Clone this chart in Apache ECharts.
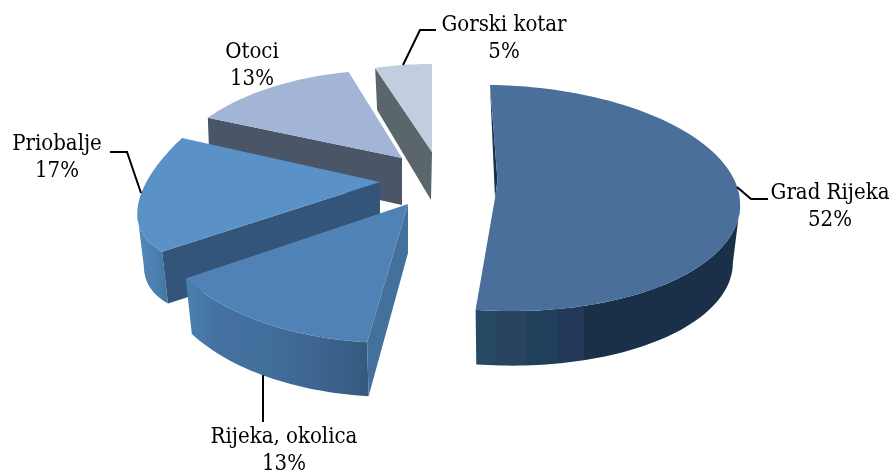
<!DOCTYPE html>
<html><head><meta charset="utf-8">
<style>html,body{margin:0;padding:0;background:#fff}#c{width:893px;height:472px}</style>
<script src="https://cdn.jsdelivr.net/npm/echarts@6/dist/echarts.min.js"></script>
</head><body><div id="c"></div>
<script>
const categories = ['Grad Rijeka', 'Rijeka, okolica', 'Priobalje', 'Otoci', 'Gorski kotar'];
const values = [52, 13, 17, 13, 5];
const topColors = ['#4A6F9B', '#5082B5', '#5A91C7', '#A2B5D7', '#C3CDE0'];
const sideColors = ['#1A3049', '#44709C', '#34557A', '#4A5568', '#5A666B'];
const wallStops = [
  [[0,'#264A63'],[.075,'#264A63'],[.075,'#2A4460'],[.19,'#2A4460'],[.19,'#1F3F5B'],[.31,'#1F3F5B'],[.31,'#24395A'],[.41,'#24395A'],[.41,'#1A3049'],[1,'#1A3049']],
  [[0,'#4A80AD'],[.2,'#456FA0'],[.45,'#416F9B'],[.7,'#3F6593'],[.85,'#3A5F88'],[1,'#355A7E']],
  [[0,'#5387B8'],[.6,'#4A80AF'],[1,'#44749F']],
  [[0,'#4A5568'],[1,'#4A5568']],
  [[0,'#5A666B'],[1,'#5A666B']]
];
/* projection of each exploded slice: ellipse centre c, axes e/n, tip, base scale and depth */
const layout = [
  {c:[498,198],e:[242,3],n:[-8,-113],tip:[497.5,180],s:.97,d:58,sideTip:[-2.5,18],notch:true},
  {c:[427,177],e:[280,-5],n:[25,-166],tip:[408,204],s:.975,d:58,sideTip:[0,49]},
  {c:[382,133],e:[241,-61],n:[42.5,-118],tip:[380,182],s:.973,d:55,sideTip:[0,53]},
  {c:[374,173],e:[202,13],n:[39,-102],tip:[402,158],s:.99,d:44,sideTip:[0,47]},
  {c:[432,152],e:[184,1],n:[0,-88],tip:[432,152],s:.965,d:39,sideTip:[-1,48]}
];
const WALL_FROM = 92, WALL_TO = 260;
const labels = [[830,193.5],[284,437],[57,144],[252,52],[504,25]];
const leaders = [
  [[737,187],[751,199],[768,199]],
  [[263,375],[263,422]],
  [[141,193],[127,152],[110,152]],
  null,
  [[403,65],[420,30],[436,30]]
];
const LINE_H = 27;
const FONT = '"DejaVu Serif Condensed","DejaVu Serif",serif';
const drawRank = [3, 4, 2, 1, 0];

const total = values.reduce((a, b) => a + b, 0);
const cum = [];
values.reduce((a, v, i) => { cum[i] = a; return a + v; }, 0);
const rad = d => d * Math.PI / 180;
function topPt(L, th) {
  const s = Math.sin(rad(th)), k = Math.cos(rad(th));
  return [L.c[0] + s * L.e[0] + k * L.n[0], L.c[1] + s * L.e[1] + k * L.n[1]];
}
function basePt(L, p) {
  return [L.c[0] + L.s * (p[0] - L.c[0]), L.c[1] + L.s * (p[1] - L.c[1]) + L.d];
}
function arc(L, a, b) {
  const n = Math.max(2, Math.ceil(Math.abs(b - a) / 1.5)), out = [];
  for (let i = 0; i <= n; i++) out.push(topPt(L, a + (b - a) * i / n));
  return out;
}
function renderItem(params, api) {
  const i = params.dataIndex, L = layout[i];
  const a0 = cum[i] / total * 360, a1 = (cum[i] + values[i]) / total * 360;
  const rank = drawRank[i] * 10;
  const kids = [];
  // front wall
  const wa = Math.max(a0, WALL_FROM), wb = Math.min(a1, WALL_TO);
  if (wb > wa) {
    const t = arc(L, wa, wb), pts = t.concat(t.map(p => basePt(L, p)).reverse());
    kids.push({type: 'polygon', z2: rank + 1, shape: {points: pts}, style: {
      fill: new echarts.graphic.LinearGradient(0, 0, 1, 0,
        wallStops[i].map(s => ({offset: s[0], color: s[1]})))
    }});
  }
  // wall along the slice's starting edge
  const corner = topPt(L, a0), tipLow = [L.tip[0] + L.sideTip[0], L.tip[1] + L.sideTip[1]];
  const sidePts = L.notch ? [corner, L.tip, tipLow] : [corner, L.tip, tipLow, basePt(L, corner)];
  kids.push({type: 'polygon', z2: rank + 2, shape: {points: sidePts}, style: {fill: sideColors[i]}});
  // top face
  const face = arc(L, a0, a1);
  const facePts = L.notch ? [L.tip].concat([tipLow], face.slice().reverse()) : [L.tip].concat(face);
  kids.push({type: 'polygon', z2: rank + 3, shape: {points: facePts}, style: {fill: topColors[i]}});
  // leader
  if (leaders[i]) kids.push({type: 'polyline', z2: 200, shape: {points: leaders[i]},
    style: {stroke: '#000', lineWidth: 2, fill: 'none'}});
  // label
  [categories[i], values[i] + '%'].forEach((s, k) => kids.push({type: 'text', z2: 210, style: {
    text: s, x: labels[i][0], y: labels[i][1] + k * LINE_H, align: 'center', verticalAlign: 'middle',
    font: '22px ' + FONT, fill: '#000'}}));
  return {type: 'group', children: kids};
}
const chart = echarts.init(document.getElementById('c'), null, {renderer: 'canvas'});
chart.setOption({
  animation: false,
  backgroundColor: '#fff',
  series: [{type: 'custom', coordinateSystem: 'none', renderItem, clip: false,
    data: values.map((v, i) => ({name: categories[i], value: v}))}]
});
</script></body></html>
